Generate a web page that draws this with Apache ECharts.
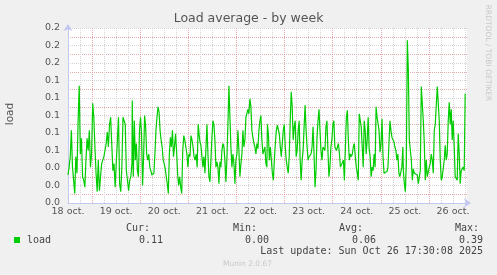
<!DOCTYPE html>
<html><head><meta charset="utf-8">
<script src="https://cdn.jsdelivr.net/npm/echarts@6/dist/echarts.min.js"></script>
<style>html,body{margin:0;padding:0;background:#f0f0f0}#c{width:497px;height:275px}</style>
</head><body><div id="c"></div>
<script>
// ---- data ----
const dayLabels = ['18 oct.','19 oct.','20 oct.','21 oct.','22 oct.','23 oct.','24 oct.','25 oct.','26 oct.'];
const yTickLabels = ['0.0','0.0','0.0','0.1','0.1','0.1','0.1','0.1','0.2','0.2','0.2'];
// time spans (hours since 18 oct.) covered by each block of samples
const segSpans = [[0,31.9],[32.05,65.45],[65.8,99.2],[99.45,133.1],[133.4,167.0],[167.25,198.1]];
const load1 = [0.032,0.041,0.053,0.083,0.041,0.039,0.011,0.053,0.034,0.094,0.134,0.056,0.074,0.030,0.026,0.018,0.049,0.074,0.060,0.083,0.041,0.056,0.114,0.098,0.064,0.034,0.013,0.049,0.014,0.030,0.045,0.049,0.053,0.053,0.068,0.081,0.064,0.090,0.098,0.098,0.037,0.045,0.018,0.045,0.047,0.098,0.022,0.013,0.041,0.098,0.094,0.090,0.037,0.026,0.014,0.026,0.030,0.045];
const load2 = [0.117,0.030,0.094,0.049,0.068,0.037,0.030,0.083,0.098,0.079,0.020,0.053,0.100,0.087,0.056,0.049,0.056,0.041,0.037,0.032,0.030,0.034,0.056,0.083,0.098,0.110,0.104,0.083,0.072,0.064,0.049,0.045,0.039,0.030,0.022,0.011,0.056,0.075,0.064,0.083,0.053,0.064,0.079,0.060,0.034,0.020,0.030,0.018,0.011,0.060,0.077,0.072,0.064,0.056,0.041,0.056,0.053,0.077,0.072,0.064,0.053,0.049,0.056,0.041,0.090,0.077];
const load3 = [0.070,0.066,0.053,0.041,0.053,0.034,0.062,0.090,0.056,0.030,0.024,0.049,0.075,0.094,0.089,0.072,0.041,0.047,0.041,0.022,0.047,0.041,0.060,0.068,0.064,0.049,0.024,0.051,0.090,0.134,0.098,0.064,0.041,0.056,0.045,0.022,0.049,0.056,0.083,0.060,0.030,0.045,0.056,0.083,0.064,0.072,0.098,0.098,0.107,0.102,0.119,0.110,0.083,0.075,0.068,0.064,0.056,0.068,0.062,0.083,0.094,0.100,0.072,0.056,0.054,0.064,0.045,0.041];
const load4 = [0.090,0.079,0.049,0.064,0.049,0.034,0.026,0.049,0.068,0.083,0.089,0.087,0.079,0.064,0.053,0.068,0.083,0.090,0.064,0.049,0.041,0.034,0.053,0.094,0.127,0.110,0.072,0.087,0.094,0.053,0.060,0.083,0.094,0.049,0.026,0.049,0.060,0.087,0.112,0.083,0.064,0.049,0.053,0.051,0.056,0.064,0.087,0.056,0.018,0.037,0.075,0.094,0.107,0.083,0.060,0.049,0.064,0.066,0.060,0.087,0.094,0.060,0.030,0.041,0.064,0.072,0.090,0.094,0.064];
const load5 = [0.064,0.060,0.064,0.068,0.056,0.041,0.039,0.041,0.049,0.026,0.064,0.098,0.106,0.072,0.049,0.056,0.053,0.056,0.064,0.068,0.053,0.041,0.034,0.026,0.102,0.103,0.087,0.064,0.041,0.094,0.083,0.056,0.072,0.098,0.062,0.053,0.030,0.041,0.037,0.056,0.041,0.110,0.098,0.098,0.083,0.058,0.068,0.096,0.053,0.034,0.036,0.034,0.036,0.041,0.068,0.094,0.083,0.075,0.075,0.070,0.064,0.060,0.049,0.056,0.034,0.030,0.032,0.041,0.064];
const load6 = [0.037,0.022,0.013,0.045,0.186,0.152,0.072,0.071,0.049,0.026,0.039,0.034,0.034,0.032,0.032,0.022,0.022,0.037,0.133,0.134,0.094,0.068,0.026,0.049,0.030,0.030,0.041,0.045,0.056,0.049,0.034,0.083,0.090,0.089,0.133,0.114,0.094,0.049,0.026,0.030,0.030,0.049,0.066,0.049,0.056,0.094,0.115,0.090,0.107,0.072,0.094,0.064,0.030,0.028,0.026,0.079,0.056,0.022,0.037,0.037,0.041,0.037,0.125];
const statNames = ['Cur:','Min:','Avg:','Max:'];
const statValues = ['0.11','0.00','0.06','0.39'];
const seriesName = 'load';
const lastUpdate = 'Last update: Sun Oct 26 17:30:08 2025';

// ---- build ----
const blocks = [load1,load2,load3,load4,load5,load6];
const points = [];
blocks.forEach((vals, k) => {
  const [s, e] = segSpans[k];
  const step = (e - s) / (vals.length - 1);
  vals.forEach((v, i) => points.push([s + i * step, v]));
});

const MONO = '"DejaVu Sans Mono", monospace';
const SANS = '"DejaVu Sans", sans-serif';
const GRAY = '#d4d4d4', RED = '#e6aaaa', AXIS = '#c4c8f0';
const statNameRight = [150, 257, 363, 479];
const statValRight = [163, 269, 376, 483];

function txt(text, x, y, font, fill, align, rot) {
  return { type: 'text', x: x, y: y, rotation: rot || 0, silent: true,
    style: { text: text, font: font, fill: fill, align: align || 'left', textAlign: align || 'left',
      verticalAlign: 'middle', textVerticalAlign: 'middle' } };
}

const graphics = [
  txt('Load average - by week', 248.5, 19, '12.5px ' + SANS, '#555', 'center'),
  txt('load', 10, 114, '10.5px ' + SANS, '#555', 'center', Math.PI / 2),
  txt('RRDTOOL / TOBI OETIKER', 488, 53, '7.5px ' + SANS, '#c8c8c8', 'center', -Math.PI / 2),
  { type: 'rect', shape: { x: 14, y: 237, width: 6, height: 6 }, style: { fill: '#00cc00' }, silent: true },
  txt(seriesName, 27, 240, '10px ' + MONO, '#444', 'left'),
  txt(lastUpdate, 483, 251, '10px ' + MONO, '#444', 'right'),
  txt('Munin 2.0.67', 223, 264, '7.5px ' + SANS, '#c8c8c8', 'left')
];
statNames.forEach((n, i) => {
  graphics.push(txt(n, statNameRight[i], 228, '10px ' + MONO, '#444', 'right'));
  graphics.push(txt(statValues[i], statValRight[i], 240, '10px ' + MONO, '#444', 'right'));
});

function isMultiple(v, step) { const r = v / step; return Math.abs(r - Math.round(r)) < 1e-6; }

const chart = echarts.init(document.getElementById('c'), null, { renderer: 'canvas' });
chart.setOption({
  animation: false,
  backgroundColor: '#f0f0f0',
  grid: { left: 68, top: 28, width: 399, height: 175, show: true, backgroundColor: '#ffffff', borderWidth: 0 },
  xAxis: {
    type: 'value', min: 0, max: 199, interval: 6,
    axisLine: { show: true, lineStyle: { color: AXIS, width: 1 }, symbol: ['none', 'arrow'], symbolSize: [7, 7], symbolOffset: [0, 4] },
    axisTick: { show: false },
    axisLabel: { margin: 4, fontSize: 9.5, fontFamily: SANS, color: '#555', hideOverlap: false,
      showMinLabel: true, showMaxLabel: false,
      formatter: (v) => isMultiple(v, 24) ? (dayLabels[Math.round(v / 24)] || '') : '' },
    splitLine: { show: true, showMinLine: true, showMaxLine: false,
      lineStyle: { color: [GRAY, GRAY, RED, GRAY], type: [1, 1], width: 1 } }
  },
  yAxis: {
    type: 'value', min: 0, max: 0.2, interval: 0.01,
    axisLine: { show: true, lineStyle: { color: AXIS, width: 1 }, symbol: ['none', 'arrow'], symbolSize: [7, 7], symbolOffset: [0, 4] },
    axisTick: { show: false },
    axisLabel: { margin: 8, fontSize: 9.5, fontFamily: SANS, color: '#555', hideOverlap: false,
      formatter: (v) => isMultiple(v, 0.02) ? yTickLabels[Math.round(v / 0.02)] : '' },
    splitLine: { show: true, showMinLine: false,
      lineStyle: { color: [RED, GRAY], type: [1, 1], width: 1 } }
  },
  series: [{
    type: 'line', name: seriesName, data: points, showSymbol: false, symbol: 'none',
    lineStyle: { color: '#00cc00', width: 1.2 }, itemStyle: { color: '#00cc00' }, clip: true
  }],
  graphic: graphics
});
</script></body></html>
